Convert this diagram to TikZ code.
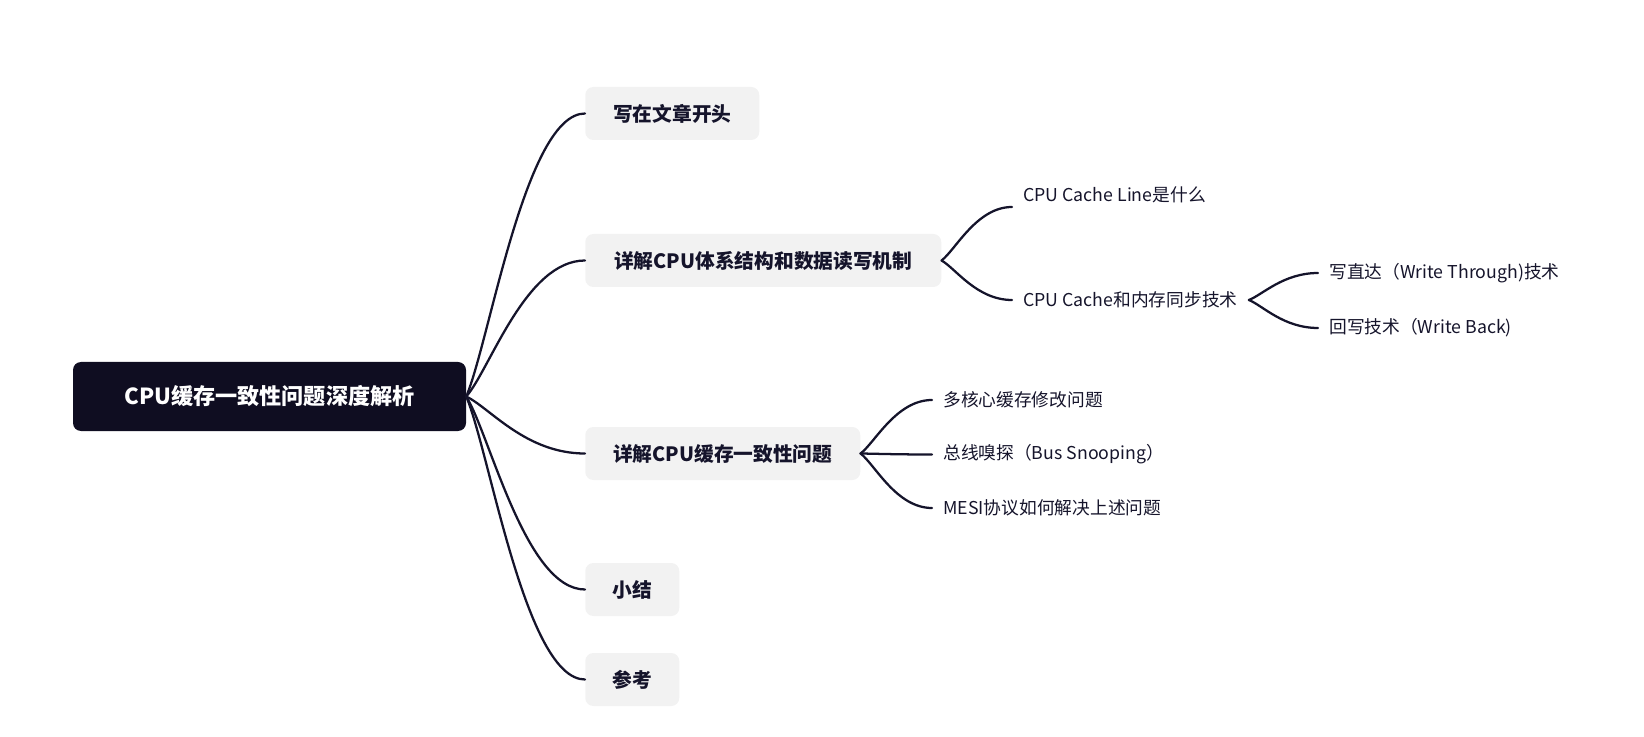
\documentclass[tikz,border=0pt]{standalone}
\usepackage{fontspec}
\setmainfont{Noto Sans CJK SC}
\usetikzlibrary{calc}
\definecolor{ink}{HTML}{15142B}
\definecolor{rootbg}{HTML}{0F0D21}
\definecolor{boxbg}{HTML}{F2F2F2}
\tikzset{
  rootbox/.style={fill=rootbg, rounded corners=6pt, text=white, inner sep=0pt,
    font=\bfseries\fontsize{16.6pt}{19pt}\selectfont,
    minimum width=294.75pt, minimum height=51.75pt},
  topicbox/.style={fill=boxbg, rounded corners=6pt, text=ink, inner sep=0pt, anchor=west,
    font=\bfseries\fontsize{14.8pt}{17pt}\selectfont, minimum height=39.75pt},
  leafbox/.style={text=ink, anchor=west, inner xsep=8.25pt, inner ysep=0pt,
    font=\fontsize{13.3pt}{15pt}\selectfont},
  link/.style={draw=ink, line width=1.7pt, line cap=round}
}
\newcommand\mmlink[2]{\draw[link] let \p1=(#1), \p2=(#2) in (\p1) .. controls ($(\p1)!0.2!(\p2)$) and ({0.5*\x1+0.5*\x2},\y2) .. (\p2);}
\begin{document}
\begin{tikzpicture}[x=0.75pt,y=-0.75pt]
\useasboundingbox (0,0) rectangle (1644,737);
% root
\node[rootbox] (root) at (269.5,396.5) {CPU缓存一致性问题深度解析};
% level 1
\node[topicbox, minimum width=130.5pt] (t1) at (585,113.5) {写在文章开头};
\node[topicbox, minimum width=267pt] (t2) at (585,260.5) {详解CPU体系结构和数据读写机制};
\node[topicbox, minimum width=206.25pt] (t3) at (585,453.5) {详解CPU缓存一致性问题};
\node[topicbox, minimum width=70.5pt] (t4) at (585,589.5) {小结};
\node[topicbox, minimum width=70.5pt] (t5) at (585,679.5) {参考};
% level 2
\node[leafbox] (cl) at (1012,195) {CPU Cache Line是什么};
\node[leafbox] (sync) at (1012,300) {CPU Cache和内存同步技术};
\node[leafbox] (wt) at (1318,273) {写直达（Write Through)技术};
\node[leafbox] (wb) at (1318,328) {回写技术（Write Back)};
\node[leafbox] (mc) at (932,400) {多核心缓存修改问题};
\node[leafbox] (bs) at (932,454.5) {总线嗅探（Bus Snooping）};
\node[leafbox] (mesi) at (932,508) {MESI协议如何解决上述问题};
% connectors
\mmlink{root.east}{t1.west}
\mmlink{root.east}{t2.west}
\mmlink{root.east}{t3.west}
\mmlink{root.east}{t4.west}
\mmlink{root.east}{t5.west}
\mmlink{t2.east}{[yshift=-9pt]cl.west}
\mmlink{t2.east}{sync.west}
\mmlink{sync.east}{wt.west}
\mmlink{sync.east}{wb.west}
\mmlink{t3.east}{mc.west}
\mmlink{t3.east}{bs.west}
\mmlink{t3.east}{mesi.west}
\end{tikzpicture}
\end{document}
